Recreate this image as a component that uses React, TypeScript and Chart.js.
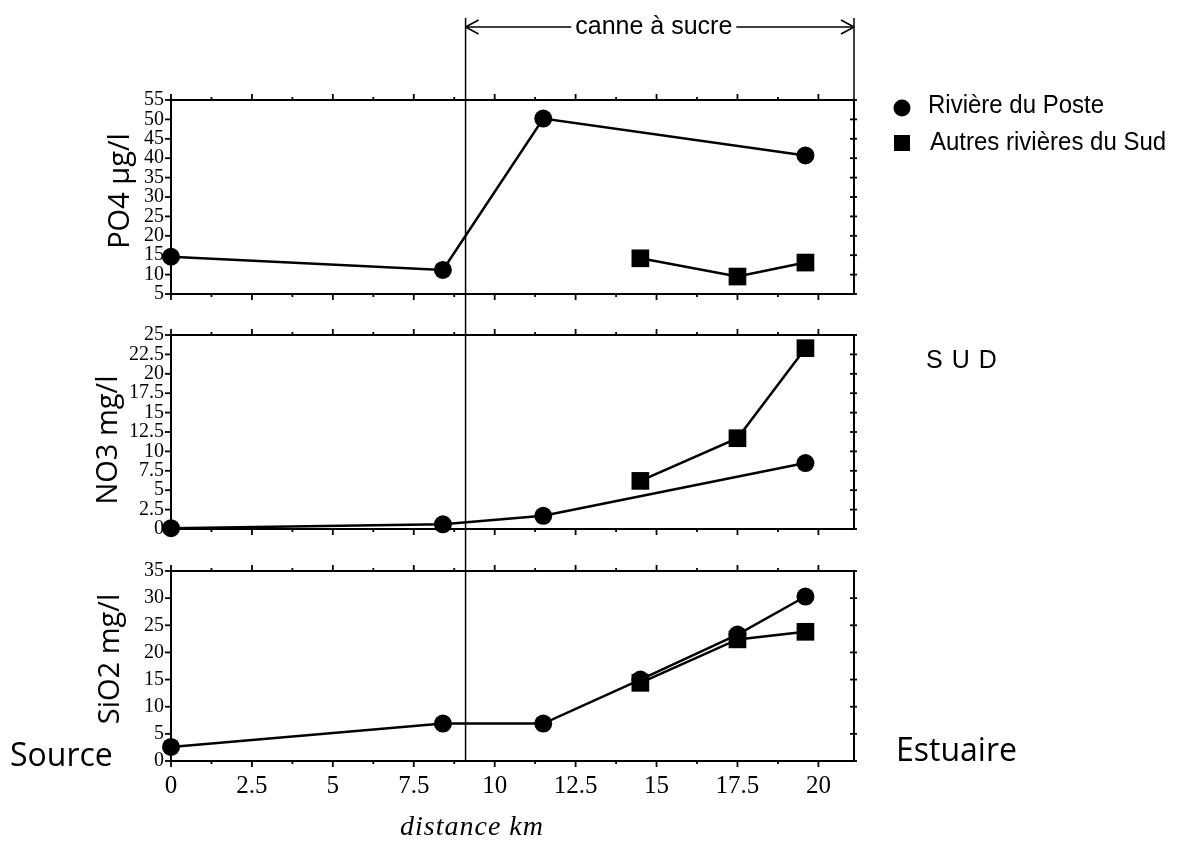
import { useEffect, useRef } from 'react';
import { Chart, registerables } from 'chart.js';

Chart.register(...registerables);

// ---- data (distance km along the river) ----
const posteKm = [0, 8.4, 11.5, 19.6];
const posteKmSiO2 = [0, 8.4, 11.5, 14.5, 17.5, 19.6];
const sudKm = [14.5, 17.5, 19.6];

const po4Poste = [14.6, 11.2, 50.2, 40.7];
const po4Sud = [14.2, 9.5, 13.1];
const no3Poste = [0.1, 0.6, 1.7, 8.5];
const no3Sud = [6.2, 11.7, 23.3];
const sio2Poste = [2.6, 6.9, 6.9, 15.0, 23.3, 30.3];
const sio2Sud = [14.4, 22.4, 23.8];

// ---- ticks ----
const xTicks = [0, 2.5, 5, 7.5, 10, 12.5, 15, 17.5, 20];
const po4Ticks = [5, 10, 15, 20, 25, 30, 35, 40, 45, 50, 55];
const no3Ticks = [0, 2.5, 5, 7.5, 10, 12.5, 15, 17.5, 20, 22.5, 25];
const sio2Ticks = [0, 5, 10, 15, 20, 25, 30, 35];

const caneStartKm = 9.1;
const xMax = 21.1;

const BLACK = '#000';

function pts(xs: number[], ys: number[]) {
  return xs.map((x, i) => ({ x, y: ys[i] }));
}

function txt(
  ctx: CanvasRenderingContext2D,
  s: string,
  x: number,
  y: number,
  font: string,
  align: CanvasTextAlign = 'left',
  rot = 0,
  spacing = '0px',
  sy = 1,
) {
  ctx.save();
  ctx.translate(x, y);
  if (rot) ctx.rotate(rot);
  if (sy !== 1) ctx.scale(1, sy);
  ctx.font = font;
  ctx.textAlign = align;
  ctx.textBaseline = 'middle';
  ctx.fillStyle = BLACK;
  (ctx as any).letterSpacing = spacing;
  ctx.fillText(s, 0, 0);
  ctx.restore();
}

function line(ctx: CanvasRenderingContext2D, x1: number, y1: number, x2: number, y2: number) {
  ctx.beginPath();
  ctx.moveTo(x1, y1);
  ctx.lineTo(x2, y2);
  ctx.stroke();
}

const ds = (data: { x: number; y: number }[], yAxisID: string, style: 'circle' | 'rect') => ({
  type: 'line' as const,
  data,
  yAxisID,
  xAxisID: 'x',
  borderColor: BLACK,
  backgroundColor: BLACK,
  borderWidth: 2.5,
  pointStyle: style,
  pointRadius: style === 'circle' ? 9 : 12.5,
  pointBorderWidth: 0,
  pointHoverRadius: style === 'circle' ? 9 : 12.5,
  tension: 0,
  fill: false,
  clip: false as any,
});

const yScale = (min: number, max: number, ticks: number[], weight: number, stackWeight: number) => ({
  type: 'linear' as const,
  position: 'left' as const,
  stack: 'panels',
  stackWeight,
  weight,
  min,
  max,
  grid: { display: false, drawTicks: false },
  border: { display: false },
  ticks: {
    autoSkip: false,
    padding: 7,
    color: BLACK,
    font: { family: 'Liberation Serif', size: 20 },
    callback: (v: any) => String(v),
  },
  afterBuildTicks: (s: any) => {
    s.ticks = ticks.map((v) => ({ value: v }));
  },
  afterFit: (s: any) => {
    s.width = 60;
  },
});

const spacer = (weight: number, stackWeight: number) => ({
  type: 'linear' as const,
  position: 'left' as const,
  stack: 'panels',
  stackWeight,
  weight,
  min: 0,
  max: 1,
  grid: { display: false, drawTicks: false },
  border: { display: false },
  ticks: { display: false },
  afterFit: (s: any) => {
    s.width = 60;
  },
});

const framePlugin = {
  id: 'framePlugin',
  beforeDatasetsDraw(chart: any) {
    const ctx: CanvasRenderingContext2D = chart.ctx;
    const xs = chart.scales.x;
    const L = xs.left;
    const R = xs.right;
    ctx.save();
    ctx.strokeStyle = BLACK;
    ctx.lineCap = 'butt';
    for (const id of ['yPO4', 'yNO3', 'ySiO2']) {
      const s = chart.scales[id];
      const T = s.top;
      const B = s.bottom;
      ctx.lineWidth = 2;
      ctx.strokeRect(L, T, R - L, B - T);
      ctx.lineWidth = 1.8;
      for (const t of s.ticks) {
        const y = s.getPixelForValue(t.value);
        line(ctx, L - 6, y, L, y);
        line(ctx, R - 4, y, R + 3, y);
      }
      for (let v = 0; v <= xMax; v += 1.25) {
        const major = Math.abs(v / 2.5 - Math.round(v / 2.5)) < 1e-6;
        const x = xs.getPixelForValue(v);
        const len = major ? 6 : 3;
        line(ctx, x, T, x, T - len);
        line(ctx, x, B, x, B + len);
      }
    }
    // canne à sucre bracket
    const yTop = chart.scales.yPO4.top;
    const yBot = chart.scales.ySiO2.bottom;
    const xc = xs.getPixelForValue(caneStartKm);
    const yArrow = 27;
    ctx.lineWidth = 1.5;
    line(ctx, xc, 18, xc, yBot);
    line(ctx, R, 18, R, yTop);
    const fontC = '25px "Liberation Sans"';
    ctx.font = fontC;
    const label = 'canne à sucre';
    const w = ctx.measureText(label).width;
    const mid = (xc + R) / 2 - 6;
    line(ctx, xc, yArrow, mid - w / 2 - 4, yArrow);
    line(ctx, mid + w / 2 + 4, yArrow, R, yArrow);
    // arrow heads
    line(ctx, xc, yArrow, xc + 13, yArrow - 7);
    line(ctx, xc, yArrow, xc + 13, yArrow + 7);
    line(ctx, R, yArrow, R - 13, yArrow - 7);
    line(ctx, R, yArrow, R - 13, yArrow + 7);
    txt(ctx, label, mid, yArrow, fontC, 'center');
    ctx.restore();
  },
  afterDraw(chart: any) {
    const ctx: CanvasRenderingContext2D = chart.ctx;
    const xs = chart.scales.x;
    const R = xs.right;
    const p = chart.scales.yPO4;
    const n = chart.scales.yNO3;
    const si = chart.scales.ySiO2;
    ctx.save();
    // legend
    ctx.fillStyle = BLACK;
    ctx.beginPath();
    ctx.arc(R + 48, p.top + 8, 8.5, 0, Math.PI * 2);
    ctx.fill();
    ctx.fillRect(R + 40, p.top + 35, 16, 16);
    txt(ctx, 'Rivière du Poste', R + 74, p.top + 6, '24px "Liberation Sans"', 'left', 0, '0px', 1.1);
    txt(ctx, 'Autres rivières du Sud', R + 76, p.top + 43, '24px "Liberation Sans"', 'left', 0, '0px', 1.1);
    // SUD
    txt(ctx, 'SUD', R + 72, n.top + 26, '25px "Liberation Sans"', 'left', 0, '9px');
    // Source / Estuaire
    txt(ctx, 'Source', 10, si.bottom - 4, '32px "Open Sans"', 'left');
    txt(ctx, 'Estuaire', R + 42, si.bottom - 9, '32px "Open Sans"', 'left');
    // axis titles
    txt(ctx, 'PO4 µg/l', 121, (p.top + p.bottom) / 2 - 6, '29px "Open Sans"', 'center', -Math.PI / 2);
    txt(ctx, 'NO3 mg/l', 109, (n.top + n.bottom) / 2 + 8, '29px "Open Sans"', 'center', -Math.PI / 2);
    txt(ctx, 'SiO2 mg/l', 111, (si.top + si.bottom) / 2 - 7, '29px "Open Sans"', 'center', -Math.PI / 2);
    // x title
    txt(ctx, 'distance km', xs.getPixelForValue(9.3), 828, 'italic 28px "Liberation Serif"', 'center', 0, '1px');
    ctx.restore();
  },
};

export default function App() {
  const ref = useRef<HTMLCanvasElement>(null);
  useEffect(() => {
    document.body.style.margin = '0';
    const chart = new Chart(ref.current!, {
      type: 'line',
      data: {
        datasets: [
          ds(pts(posteKm, po4Poste), 'yPO4', 'circle'),
          ds(pts(sudKm, po4Sud), 'yPO4', 'rect'),
          ds(pts(posteKm, no3Poste), 'yNO3', 'circle'),
          ds(pts(sudKm, no3Sud), 'yNO3', 'rect'),
          ds(pts(posteKmSiO2, sio2Poste), 'ySiO2', 'circle'),
          ds(pts(sudKm, sio2Sud), 'ySiO2', 'rect'),
        ] as any,
      },
      options: {
        animation: false,
        responsive: true,
        maintainAspectRatio: false,
        layout: { padding: { left: 111, right: 341, top: 100, bottom: 25 } },
        plugins: { legend: { display: false }, tooltip: { enabled: false } },
        events: [],
        scales: {
          x: {
            type: 'linear',
            position: 'bottom',
            min: 0,
            max: xMax,
            grid: { display: false, drawTicks: false },
            border: { display: false },
            ticks: {
              autoSkip: false,
              maxRotation: 0,
              padding: 10,
              color: BLACK,
              font: { family: 'Liberation Serif', size: 25 },
              callback: (v: any) => String(v),
            },
            afterBuildTicks: (s: any) => {
              s.ticks = xTicks.map((v) => ({ value: v }));
            },
            afterFit: (s: any) => {
              s.height = 55;
            },
          },
          yPO4: yScale(5, 55, po4Ticks, 5, 194),
          gap1: spacer(4, 41),
          yNO3: yScale(0, 25, no3Ticks, 3, 194),
          gap2: spacer(2, 42),
          ySiO2: yScale(0, 35, sio2Ticks, 1, 190),
        } as any,
      },
      plugins: [framePlugin],
    });
    return () => chart.destroy();
  }, []);
  return (
    <div style={{ position: 'fixed', left: 0, top: 0, width: 1195, height: 841, background: '#fff' }}>
      <canvas ref={ref} />
    </div>
  );
}
